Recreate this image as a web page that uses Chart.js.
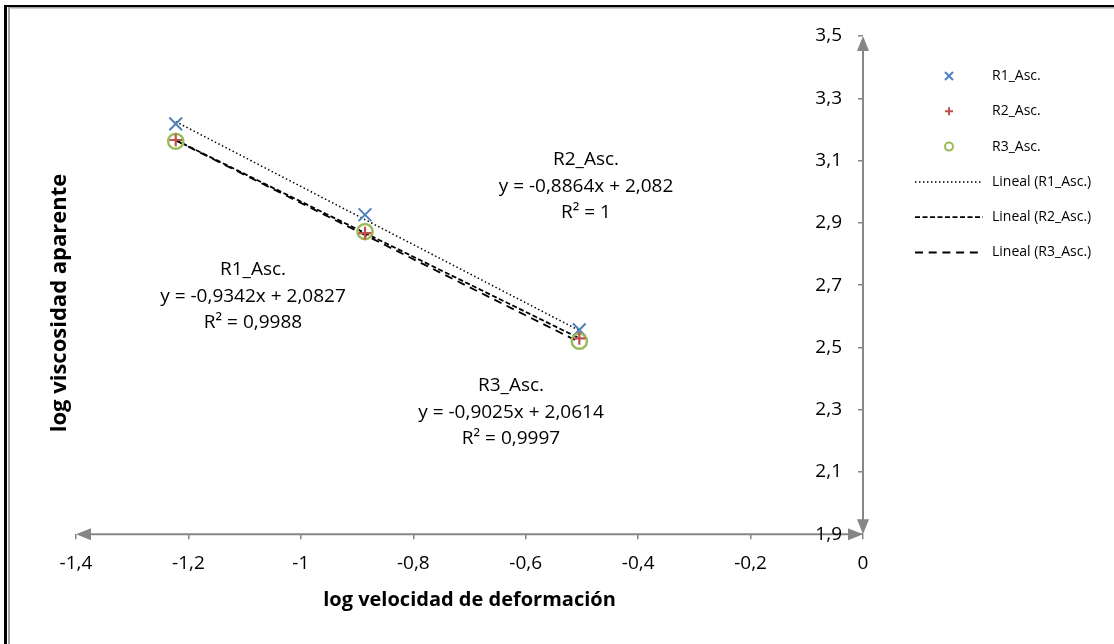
<!DOCTYPE html>
<html>
<head>
<meta charset="utf-8">
<title>log viscosidad aparente vs log velocidad de deformación</title>
<script src="https://cdn.jsdelivr.net/npm/chart.js@4.4.1/dist/chart.umd.min.js"></script>
<style>
  html, body { margin: 0; padding: 0; background: #ffffff; }
  #wrap { width: 1114px; height: 644px; position: relative; }
</style>
</head>
<body>
<div id="wrap"><canvas id="chart"></canvas></div>
<script>
// ---- data ----
const seriesNames = ['R1_Asc.', 'R2_Asc.', 'R3_Asc.'];
const logShearRate = [-1.2226, -0.8859, -0.5046];
const r1Viscosity = [3.218, 2.926, 2.556];
const r2Viscosity = [3.166, 2.867, 2.529];
const r3Viscosity = [3.162, 2.872, 2.520];
// linear trendline coefficients (y = m·x + b) and R² as printed
const fitSlopes = [-0.9342, -0.8864, -0.9025];
const fitIntercepts = [2.0827, 2.082, 2.0614];
const fitR2 = ['0,9988', '1', '0,9997'];
// axis ticks
const xTickValues = [-1.4, -1.2, -1, -0.8, -0.6, -0.4, -0.2, 0];
const xTickLabels = ['-1,4', '-1,2', '-1', '-0,8', '-0,6', '-0,4', '-0,2', '0'];
const yTickValues = [1.9, 2.1, 2.3, 2.5, 2.7, 2.9, 3.1, 3.3, 3.5];
const yTickLabels = ['1,9', '2,1', '2,3', '2,5', '2,7', '2,9', '3,1', '3,3', '3,5'];
const xTitle = 'log velocidad de deformación';
const yTitle = 'log viscosidad aparente';

// ---- styling ----
const FONT = '"Open Sans", "DejaVu Sans", sans-serif';
const COLORS = {
  r1: '#4F81BD', r2: '#C0504D', r3: '#9BBB59',
  axis: '#868686', text: '#000000', trend: '#000000'
};
const trendDashes = [[1.5, 2.5], [5, 2.5], [8, 5.7]];
const trendWidths = [1.5, 1.8, 1.8];
const TICK_FONT_SIZE = 19;

const viscositySeries = [r1Viscosity, r2Viscosity, r3Viscosity];
const toPoints = (ys) => logShearRate.map((x, i) => ({ x: x, y: ys[i] }));
const trendPoints = (k) => {
  const xs = [logShearRate[0], logShearRate[logShearRate.length - 1]];
  return xs.map(x => ({ x: x, y: fitSlopes[k] * x + fitIntercepts[k] }));
};
const fmt = (v) => String(v).replace('.', ',');

const markerDatasets = [
  { style: 'crossRot', color: COLORS.r1, radius: 9, width: 2, order: 3 },
  { style: 'cross', color: COLORS.r2, radius: 6.3, width: 2.2, order: 1 },
  { style: 'circle', color: COLORS.r3, radius: 7.6, width: 2.5, order: 2 }
].map((m, k) => ({
  label: seriesNames[k],
  data: toPoints(viscositySeries[k]),
  showLine: false,
  pointStyle: m.style,
  pointRadius: m.radius,
  pointHoverRadius: m.radius,
  pointBorderColor: m.color,
  pointBackgroundColor: 'rgba(0,0,0,0)',
  pointBorderWidth: m.width,
  order: m.order,
  legendMarker: m
}));

const trendDatasets = seriesNames.map((name, k) => ({
  label: 'Lineal (' + name + ')',
  data: trendPoints(k),
  showLine: true,
  borderColor: COLORS.trend,
  borderWidth: trendWidths[k],
  borderDash: trendDashes[k],
  pointRadius: 0,
  pointHoverRadius: 0,
  fill: false,
  order: 4 + k
}));

// Trendline equation labels: block centre x and first-line centre y (px)
const labelBlocks = [
  { cx: 253, cy: 270 },
  { cx: 586, cy: 160 },
  { cx: 511, cy: 386 }
];
const labelLineGap = 26.3;

// Vertical axis title placement (px)
const yTitleLayout = { cx: 60, cy: 303, size: 22 };

// Legend geometry (px)
const legendLayout = { lineX0: 915, lineX1: 983, textX: 992, firstY: 76, rowGap: 35.3 };

const decorPlugin = {
  id: 'decor',
  beforeDraw(chart) {
    const ctx = chart.ctx;
    ctx.save();
    ctx.fillStyle = '#ffffff';
    ctx.fillRect(0, 0, chart.width, chart.height);
    // frame: outer dark edge and inner grey edge
    ctx.fillStyle = '#000000';
    ctx.fillRect(4, 5, chart.width - 4, 2);
    ctx.fillRect(4, 5, 3, chart.height - 5);
    ctx.fillStyle = '#a0a0a0';
    ctx.fillRect(8, 7, chart.width - 8, 1.5);
    ctx.fillRect(8, 7, 2, chart.height - 7);
    ctx.restore();
  },
  beforeDatasetsDraw(chart) {
    const ctx = chart.ctx;
    const xs = chart.scales.x, ys = chart.scales.y;
    const xl = xs.getPixelForValue(xs.min), xr = xs.getPixelForValue(xs.max);
    const yb = ys.getPixelForValue(ys.min), yt = ys.getPixelForValue(ys.max);
    const ax = xs.getPixelForValue(0);
    ctx.save();
    ctx.strokeStyle = COLORS.axis;
    ctx.fillStyle = COLORS.axis;
    ctx.lineWidth = 2;
    ctx.beginPath();
    ctx.moveTo(xl + 10, yb); ctx.lineTo(xr - 10, yb);
    ctx.moveTo(ax, yt + 10); ctx.lineTo(ax, yb - 10);
    ctx.stroke();
    const arrow = (tx, ty, dx, dy) => {
      const len = 15, hw = 6;
      const bx = tx - dx * len, by = ty - dy * len;
      ctx.beginPath();
      ctx.moveTo(tx, ty);
      ctx.lineTo(bx - dy * hw, by + dx * hw);
      ctx.lineTo(bx + dy * hw, by - dx * hw);
      ctx.closePath();
      ctx.fill();
    };
    arrow(xl, yb, -1, 0);
    arrow(xr, yb, 1, 0);
    arrow(ax, yt, 0, -1);
    arrow(ax, yb, 0, 1);
    // value-axis labels sit to the left of the axis line at x = 0
    const gap = ys.options.grid.tickLength + 16;
    ctx.fillStyle = COLORS.text;
    ctx.font = TICK_FONT_SIZE + 'px ' + FONT;
    ctx.textAlign = 'right';
    ctx.textBaseline = 'middle';
    yTickValues.forEach((v, i) => {
      ctx.fillText(yTickLabels[i], ax - gap, ys.getPixelForValue(v));
    });
    ctx.restore();
  },
  afterDraw(chart) {
    const ctx = chart.ctx;
    ctx.save();
    // vertical axis title
    ctx.save();
    ctx.translate(yTitleLayout.cx, yTitleLayout.cy);
    ctx.rotate(-Math.PI / 2);
    ctx.fillStyle = COLORS.text;
    ctx.font = 'bold ' + yTitleLayout.size + 'px ' + FONT;
    ctx.textAlign = 'center';
    ctx.textBaseline = 'middle';
    ctx.fillText(yTitle, 0, 0);
    ctx.restore();
    // trendline equations
    ctx.fillStyle = COLORS.text;
    ctx.font = '19px ' + FONT;
    ctx.textAlign = 'center';
    ctx.textBaseline = 'middle';
    labelBlocks.forEach((b, k) => {
      const lines = [
        seriesNames[k],
        'y = ' + fmt(fitSlopes[k]) + 'x + ' + fmt(fitIntercepts[k]),
        'R\u00B2 = ' + fitR2[k]
      ];
      lines.forEach((t, j) => ctx.fillText(t, b.cx, b.cy + j * labelLineGap));
    });
    // legend
    const L = legendLayout;
    const cx = (L.lineX0 + L.lineX1) / 2;
    ctx.textAlign = 'left';
    ctx.font = '14px ' + FONT;
    const items = chart.data.datasets.map((ds, i) => ({ ds, i }));
    const markerItems = items.filter(o => o.ds.legendMarker);
    const lineItems = items.filter(o => !o.ds.legendMarker);
    const ordered = markerItems.concat(lineItems);
    ordered.forEach((o, row) => {
      const y = L.firstY + row * L.rowGap;
      const ds = o.ds;
      ctx.save();
      if (ds.legendMarker) {
        const m = ds.legendMarker;
        ctx.strokeStyle = m.color;
        ctx.lineWidth = 2;
        ctx.beginPath();
        if (m.style === 'crossRot') {
          const r = 4;
          ctx.moveTo(cx - r, y - r); ctx.lineTo(cx + r, y + r);
          ctx.moveTo(cx - r, y + r); ctx.lineTo(cx + r, y - r);
        } else if (m.style === 'cross') {
          const r = 4;
          ctx.moveTo(cx - r, y); ctx.lineTo(cx + r, y);
          ctx.moveTo(cx, y - r); ctx.lineTo(cx, y + r);
        } else {
          ctx.arc(cx, y, 4, 0, Math.PI * 2);
        }
        ctx.stroke();
      } else {
        ctx.strokeStyle = ds.borderColor;
        ctx.lineWidth = ds.borderWidth;
        ctx.setLineDash(ds.borderDash);
        ctx.beginPath();
        ctx.moveTo(L.lineX0, y); ctx.lineTo(L.lineX1, y);
        ctx.stroke();
      }
      ctx.restore();
      ctx.fillStyle = COLORS.text;
      ctx.fillText(ds.label, L.textX, y);
    });
    ctx.restore();
  }
};

new Chart(document.getElementById('chart'), {
  type: 'scatter',
  data: { datasets: markerDatasets.concat(trendDatasets) },
  options: {
    responsive: true,
    maintainAspectRatio: false,
    animation: false,
    events: [],
    layout: { padding: { left: 76, right: 251, top: 36, bottom: 17 } },
    plugins: { legend: { display: false }, tooltip: { enabled: false } },
    scales: {
      x: {
        type: 'linear',
        position: 'bottom',
        min: xTickValues[0],
        max: xTickValues[xTickValues.length - 1],
        afterBuildTicks: (s) => { s.ticks = xTickValues.map(v => ({ value: v })); },
        ticks: {
          callback: (v, i) => xTickLabels[i],
          font: { family: FONT, size: TICK_FONT_SIZE },
          color: COLORS.text,
          padding: 13,
          maxRotation: 0,
          autoSkip: false
        },
        grid: { drawOnChartArea: false, drawTicks: true, tickLength: 5, color: COLORS.axis, lineWidth: 1.5 },
        border: { display: false },
        title: {
          display: true,
          text: xTitle,
          font: { family: FONT, size: 20, weight: 'bold' },
          color: COLORS.text,
          padding: { top: 0, bottom: 15 }
        }
      },
      y: {
        type: 'linear',
        position: { x: 0 },
        min: yTickValues[0],
        max: yTickValues[yTickValues.length - 1],
        afterBuildTicks: (s) => { s.ticks = yTickValues.map(v => ({ value: v })); },
        ticks: { display: false },
        grid: { drawOnChartArea: false, drawTicks: true, tickLength: 5, color: COLORS.axis, lineWidth: 1.5 },
        border: { display: false }
      }
    }
  },
  plugins: [decorPlugin]
});
</script>
</body>
</html>
